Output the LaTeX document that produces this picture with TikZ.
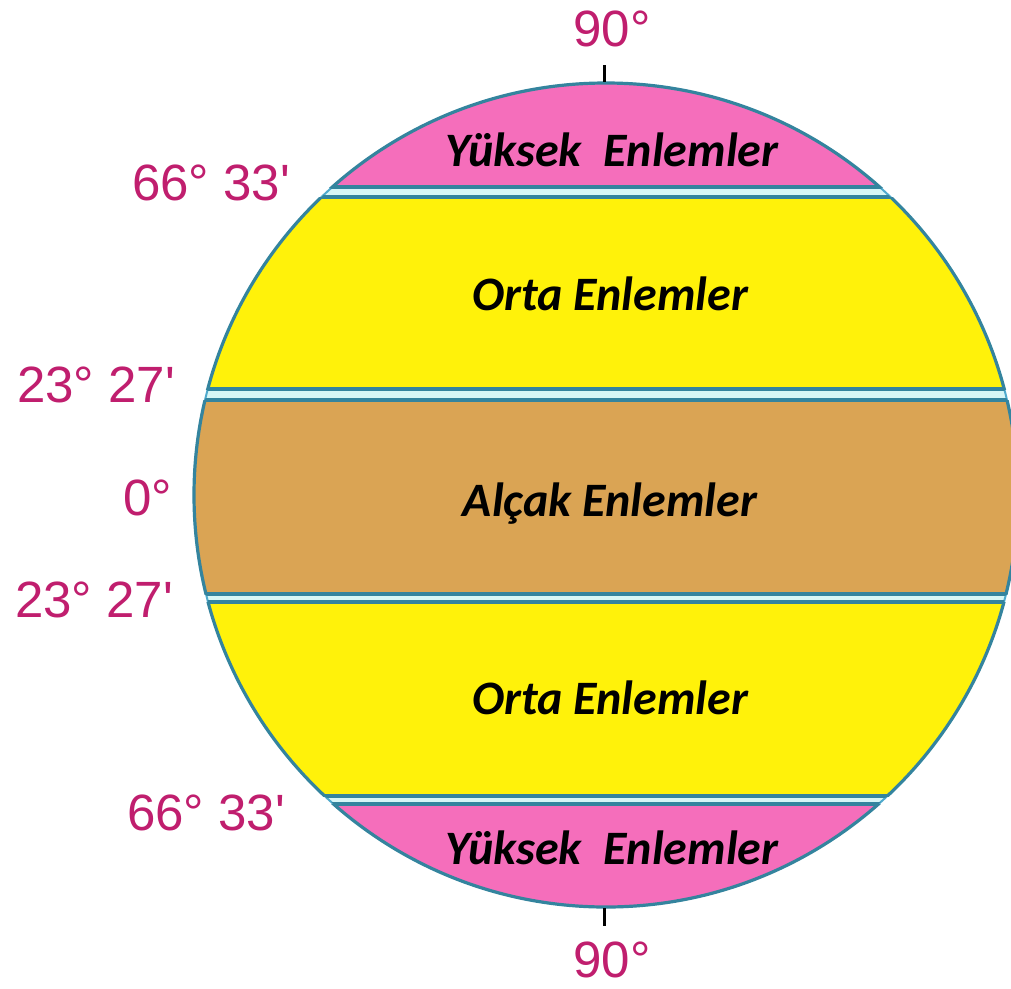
\documentclass[tikz,border=0pt]{standalone}
\usepackage{fontspec}
\newfontfamily\degfont{Liberation Sans}[Ligatures=TeXOff]
\newfontfamily\bandfont{Carlito}
\definecolor{degcol}{RGB}{192,30,110}
\definecolor{pinkband}{RGB}{245,110,187}
\definecolor{yellowband}{RGB}{255,242,10}
\definecolor{brownband}{RGB}{218,164,84}
\definecolor{gapcyan}{RGB}{215,246,246}
\definecolor{rimblue}{RGB}{80,170,205}
\definecolor{tealline}{RGB}{52,132,158}
\tikzset{
  deg/.style={font=\degfont\fontsize{51}{51}\selectfont, text=degcol, inner sep=0pt},
  bandlabel/.style={font=\bandfont\bfseries\itshape\fontsize{48}{48}\selectfont, text=black, inner sep=0pt, anchor=base},
  bandline/.style={draw=tealline, line width=3.2pt},
  tickline/.style={draw=black, line width=3pt}
}
\newcommand\drawzone[3]{%
  \begin{scope}
    \clip (606,495) circle[radius=412];
    \fill[#1] (150,#2) rectangle (1100,#3);
    \draw[bandline] (150,#2) -- (1100,#2) (150,#3) -- (1100,#3);
  \end{scope}
  \begin{scope}
    \clip (150,#2) rectangle (1100,#3);
    \draw[bandline] (606,495) circle[radius=412];
  \end{scope}}
\begin{document}
\begin{tikzpicture}[x=1pt,y=-1pt]
\useasboundingbox (0,0) rectangle (1011,988);
\fill[white] (0,0) rectangle (1011,988);
% globe
\filldraw[fill=gapcyan, draw=rimblue, line width=2pt] (606,495) circle[radius=412];
\drawzone{pinkband}{0}{187}
\drawzone{yellowband}{197}{389}
\drawzone{brownband}{400}{594}
\drawzone{yellowband}{602}{796}
\drawzone{pinkband}{804}{1000}
% poles ticks
\coordinate (topPole) at (604,82);
\coordinate (topTick) at (604,65);
\coordinate (botPole) at (604,908);
\coordinate (botTick) at (604,926);
\draw[tickline] (topTick) -- (topPole);
\draw[tickline] (botPole) -- (botTick);
% degree labels
\node[deg, anchor=base] (n90t) at (612,46) {90°};
\node[deg, anchor=base west] (n66t) at (132,200) {66° 33'};
\node[deg, anchor=base west] (n23t) at (17,402) {23° 27'};
\node[deg, anchor=base west] (n0) at (123,515) {0°};
\node[deg, anchor=base west] (n23b) at (15,617) {23° 27'};
\node[deg, anchor=base west] (n66b) at (127,830) {66° 33'};
\node[deg, anchor=base] (n90b) at (612,977) {90°};
% zone labels
\node[bandlabel] (yt) at (612,166) {Yüksek\ \ Enlemler};
\node[bandlabel] (ot) at (610,310) {Orta Enlemler};
\node[bandlabel] (al) at (610,516) {Alçak Enlemler};
\node[bandlabel] (ob) at (610,714) {Orta Enlemler};
\node[bandlabel] (yb) at (612,864) {Yüksek\ \ Enlemler};
\end{tikzpicture}
\end{document}
